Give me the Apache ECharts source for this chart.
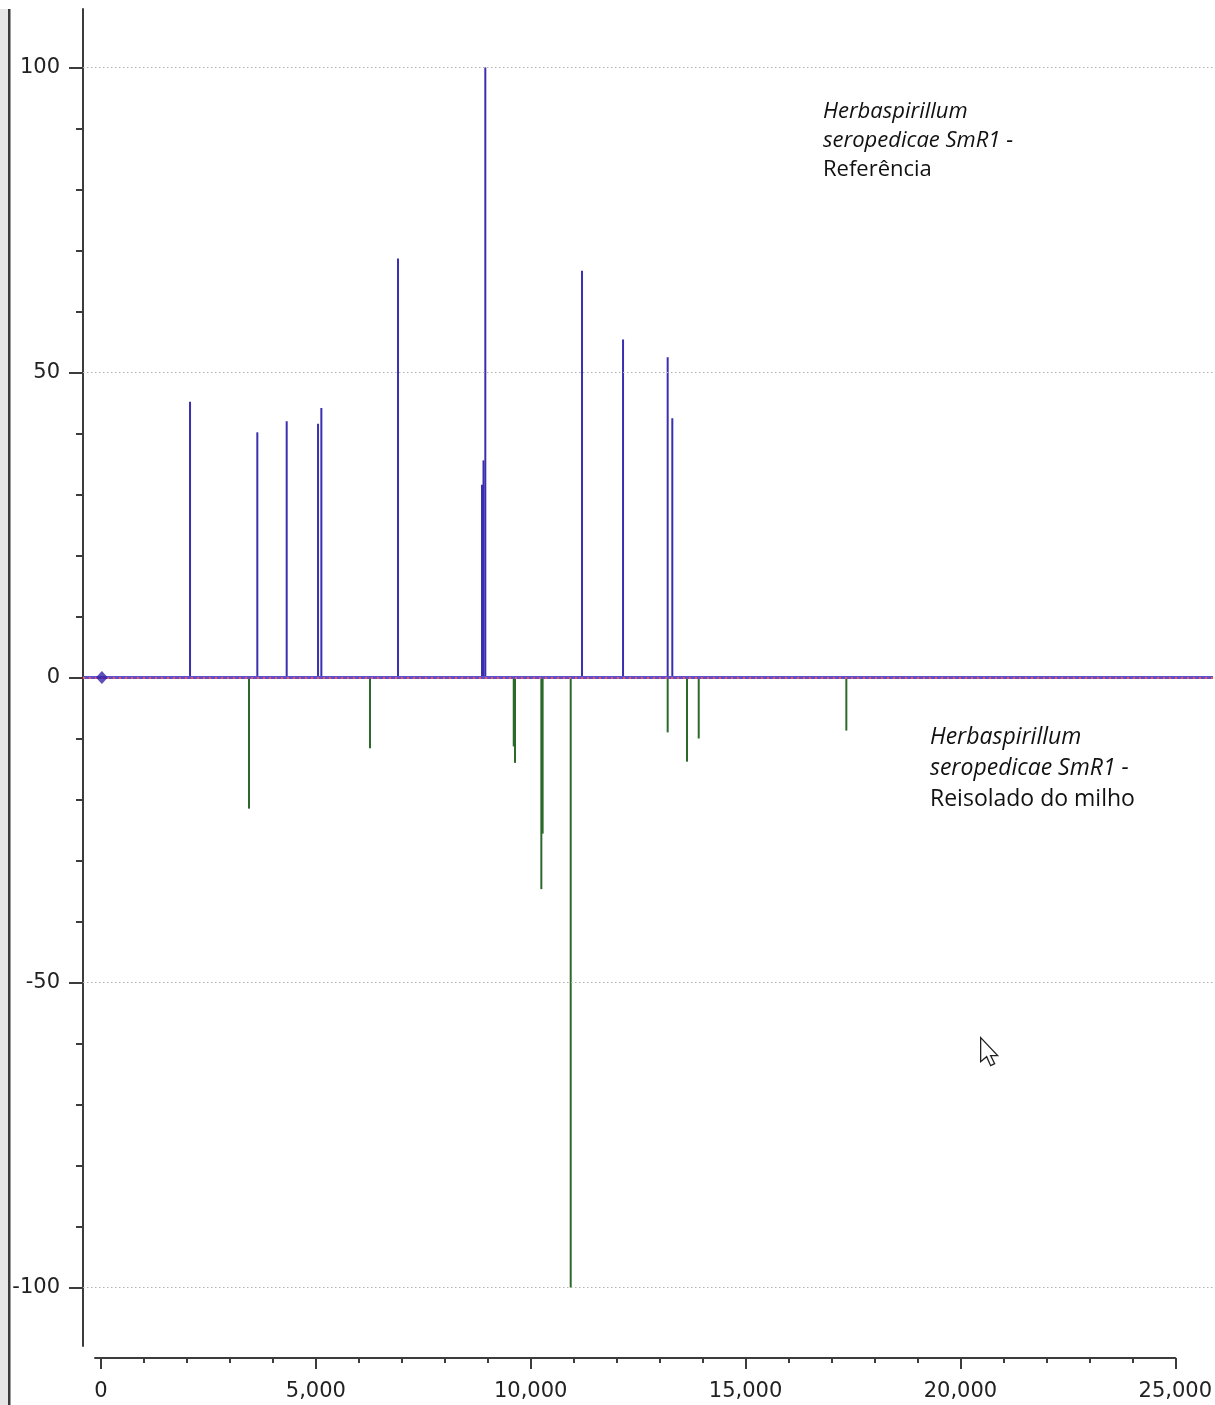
<!DOCTYPE html>
<html><head><meta charset="utf-8">
<script src="https://cdn.jsdelivr.net/npm/echarts@6/dist/echarts.min.js"></script>
<style>html,body{margin:0;padding:0;background:#fff}#c{width:1215px;height:1405px}</style>
</head><body><div id="c"></div>
<script>
// Reference strain spectrum (positive peaks)
const refX = [2070, 3635, 4318, 5047, 5124, 6907, 8860, 8895, 8937, 11186, 12140, 13178, 13286];
const refY = [45.2, 40.2, 42.0, 41.6, 44.2, 68.7, 31.6, 35.6, 100, 66.7, 55.4, 52.5, 42.5];
// Maize re-isolate spectrum (negative peaks)
const isoX = [3442, 6256, 9598, 9628, 10240, 10270, 10923, 13178, 13628, 13900, 17333];
const isoY = [-21.5, -11.6, -11.3, -14.0, -34.7, -25.6, -100, -9.0, -13.8, -10.0, -8.7];
// Axis ticks
const xTickLabels = [0, 5000, 10000, 15000, 20000, 25000];
const xMinorTicks = [1000, 2000, 3000, 4000, 6000, 7000, 8000, 9000, 11000, 12000, 13000, 14000, 16000, 17000, 18000, 19000, 21000, 22000, 23000, 24000];
const yTickLabels = [-100, -50, 0, 50, 100];
const yMinorTicks = [-90, -80, -70, -60, -40, -30, -20, -10, 10, 20, 30, 40, 60, 70, 80, 90];
const gridLevels = [100, 50, -50, -100];
const originMark = [[20, 0]];
const labelRef = ['Herbaspirillum', 'seropedicae SmR1 -', 'Referência'];
const labelIso = ['Herbaspirillum', 'seropedicae SmR1 -', 'Reisolado do milho'];

const axisColor = '#3c3c3c';
const chart = echarts.init(document.getElementById('c'));

function textLines(lines, left, top, lh, size) {
  return lines.map((t, i) => ({
    type: 'text', left: left, top: top + i * lh, z: 10,
    style: {
      text: t, fill: '#111',
      font: (i < 2 ? 'italic ' : '') + size + 'px "Open Sans", "Noto Sans", sans-serif'
    }
  }));
}

const option = {
  animation: false,
  backgroundColor: '#fff',
  grid: [
    { left: 83, right: 2, top: 9, bottom: 59 },
    { left: 95, width: 1083, top: 1300, height: 58 }
  ],
  xAxis: [
    { gridIndex: 0, type: 'value', min: -419, max: 25860, show: false },
    {
      gridIndex: 1, type: 'value', min: -140, max: 25000, position: 'bottom',
      axisLine: { show: true, onZero: false, lineStyle: { color: axisColor, width: 2 } },
      axisTick: { show: true, customValues: xTickLabels, length: 11, lineStyle: { color: axisColor, width: 2 } },
      axisLabel: {
        customValues: xTickLabels, margin: 23, fontSize: 21, color: '#222',
        fontFamily: 'DejaVu Sans', formatter: v => Number(v).toLocaleString('en-US')
      },
      splitLine: { show: false }
    },
    {
      gridIndex: 1, type: 'value', min: -140, max: 25000, position: 'bottom',
      axisLine: { show: false, onZero: false },
      axisTick: { show: true, customValues: xMinorTicks, length: 5, lineStyle: { color: axisColor, width: 2 } },
      axisLabel: { show: false },
      splitLine: { show: false }
    }
  ],
  yAxis: [
    {
      gridIndex: 0, type: 'value', min: -109.6, max: 109.6, position: 'left',
      axisLine: { show: true, onZero: false, lineStyle: { color: axisColor, width: 2 } },
      axisTick: { show: true, customValues: yTickLabels, length: 14, lineStyle: { color: axisColor, width: 2 } },
      axisLabel: { customValues: yTickLabels, margin: 23, fontSize: 21, color: '#222', fontFamily: 'DejaVu Sans' },
      splitLine: { show: false }
    },
    {
      gridIndex: 0, type: 'value', min: -109.6, max: 109.6, position: 'left',
      axisLine: { show: false, onZero: false },
      axisTick: { show: true, customValues: yMinorTicks, length: 7, lineStyle: { color: axisColor, width: 2 } },
      axisLabel: { show: false },
      splitLine: { show: false }
    },
    { gridIndex: 1, type: 'value', show: false, min: 0, max: 1 }
  ],
  series: [
    {
      type: 'line', xAxisIndex: 0, yAxisIndex: 0, data: [[0, 0]], showSymbol: false, symbol: 'none',
      lineStyle: { opacity: 0 }, z: 1, silent: true,
      markLine: {
        silent: true, symbol: 'none', label: { show: false },
        lineStyle: { color: '#b0b0b0', type: [1.5, 2.5], width: 1 },
        data: gridLevels.map(v => ({ yAxis: v }))
      }
    },
    {
      name: 'Referência', type: 'bar', xAxisIndex: 0, yAxisIndex: 0,
      data: refX.map((x, i) => [x, refY[i]]),
      barWidth: 2, barGap: '-100%', z: 2,
      itemStyle: { color: '#3a2fb0' }
    },
    {
      name: 'Reisolado do milho', type: 'bar', xAxisIndex: 0, yAxisIndex: 0,
      data: isoX.map((x, i) => [x, isoY[i]]),
      barWidth: 2, barGap: '-100%', z: 2,
      itemStyle: { color: '#2c6a2c' }
    },
    {
      type: 'line', xAxisIndex: 0, yAxisIndex: 0, data: [[0, 0]], showSymbol: false, symbol: 'none',
      lineStyle: { opacity: 0 }, z: 5, silent: true,
      markLine: {
        silent: true, symbol: 'none', label: { show: false },
        data: [
          { yAxis: 0, lineStyle: { color: '#5a50d0', width: 3, type: 'solid' } },
          { yAxis: 0, lineStyle: { color: '#ff5050', width: 2, type: [2, 4] } }
        ]
      }
    },
    {
      type: 'scatter', xAxisIndex: 0, yAxisIndex: 0, data: originMark,
      symbol: 'diamond', symbolSize: [12, 13], z: 6,
      itemStyle: { color: '#3424a8' }
    }
  ],
  graphic: [
    { type: 'rect', left: 0, top: 9, shape: { width: 8, height: 1396 }, style: { fill: '#e6e6e6' }, z: 10 },
    { type: 'rect', left: 8, top: 9, shape: { width: 2.5, height: 1396 }, style: { fill: '#3a3a3a' }, z: 10 },
    {
      type: 'polygon', left: 980, top: 1037, z: 10,
      shape: { points: [[0, 0], [0, 24], [6, 19], [10, 28], [14, 26], [10, 18], [17, 18]] },
      style: { fill: '#fff', stroke: '#222', lineWidth: 1.3 }
    }
  ].concat(textLines(labelRef, 823, 101, 29, 22))
   .concat(textLines(labelIso, 930, 726, 31, 23))
};
chart.setOption(option);
</script>
</body></html>
